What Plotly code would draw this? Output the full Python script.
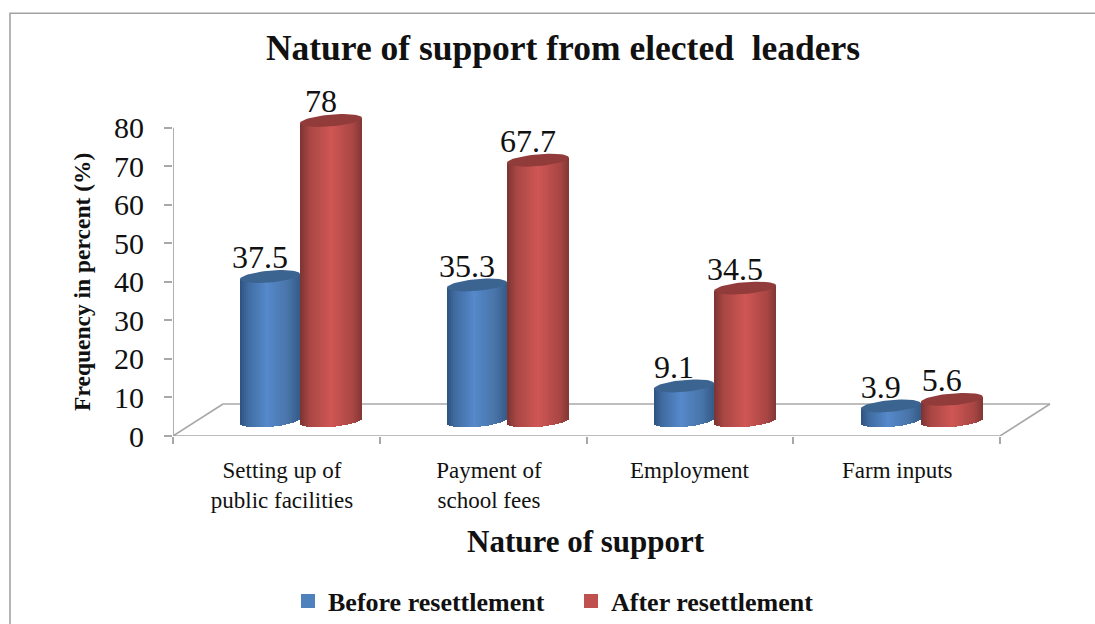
import math
import plotly.graph_objects as go

# ---- chart data ----
categories = ["Setting up of<br>public facilities", "Payment of<br>school fees", "Employment", "Farm inputs"]
before_values = [37.5, 35.3, 9.1, 3.9]
after_values = [78, 67.7, 34.5, 5.6]
value_labels_before = ["37.5", "35.3", "9.1", "3.9"]
value_labels_after = ["78", "67.7", "34.5", "5.6"]
y_ticks = [0, 10, 20, 30, 40, 50, 60, 70, 80]

# ---- canvas and plot geometry (pixels) ----
WIDTH, HEIGHT = 1095, 624
PX_PER_X = 206.75
PX_PER_Y = 3.85
Y_AXIS_MAX = 80   # the axis line and ticks stop here
Y_RANGE_MAX = 88  # headroom so the tallest cylinder and its label stay drawn
LEFT, RIGHT_EDGE, BOTTOM = 173, 1056, 436
TOP = BOTTOM - Y_RANGE_MAX * PX_PER_Y
x_max = (RIGHT_EDGE - LEFT) / PX_PER_X

# ---- 3D floor and cylinder geometry ----
DEPTH_X = 50 / PX_PER_X
DEPTH_Y = 32 / PX_PER_Y
BASE_LEVEL = 15 / PX_PER_Y
RY = 5.9          # ellipse half height, px
TILT = 2.6        # ellipse lean, px at the rim
STRIP_PX = 2
GROUP_X = [0.619, 1.62, 2.622, 3.622]
LABEL_X = [0.527, 1.528, 2.498, 3.503]

GRAY = "#a8a8a8"
SERIF = "Liberation Serif"
INK = "#111111"

BLUE_STOPS = [(0, "#2e527f"), (0.12, "#3f6a9e"), (0.45, "#5589cb"), (0.8, "#4874a8"), (1, "#345a87")]
RED_STOPS = [(0, "#7a3332"), (0.15, "#a84644"), (0.5, "#cf5654"), (0.85, "#a94644"), (1, "#7f3735")]


def shade(stops, t):
    """Colour across a cylinder's width, t running from 0 to 1."""
    for (t0, c0), (t1, c1) in zip(stops, stops[1:]):
        if t <= t1:
            f = (t - t0) / (t1 - t0)
            a = [int(c0[i:i + 2], 16) for i in (1, 3, 5)]
            b = [int(c1[i:i + 2], 16) for i in (1, 3, 5)]
            return "rgb(%d,%d,%d)" % tuple(round(p + (q - p) * f) for p, q in zip(a, b))
    return stops[-1][1]


def add_cylinders(fig, values, labels, stops, top_color, offset_px, rx_px, name):
    """One series: a body built from shaded strips, a lid ellipse and a value label."""
    xs, bases, heights, colors = [], [], [], []
    lid_x, lid_y = [], []
    n = int(2 * rx_px / STRIP_PX)
    for gx, v in zip(GROUP_X, values):
        cx = gx + offset_px / PX_PER_X
        for k in range(n):
            u = (k + 0.5) / n * 2 - 1
            lean = TILT * u / PX_PER_Y
            drop = RY * math.sqrt(1 - u * u) / PX_PER_Y
            bottom = BASE_LEVEL + lean - drop
            top = BASE_LEVEL + v + lean
            xs.append(cx + u * rx_px / PX_PER_X)
            bases.append(bottom)
            heights.append(top - bottom)
            colors.append(shade(stops, (u + 1) / 2))
        for a in range(0, 361, 6):
            c, s = math.cos(math.radians(a)), math.sin(math.radians(a))
            lid_x.append(cx + rx_px * c / PX_PER_X)
            lid_y.append(BASE_LEVEL + v + (TILT * c + RY * s) / PX_PER_Y)
        lid_x.append(None)
        lid_y.append(None)
    fig.add_trace(go.Bar(x=xs, y=heights, base=bases, width=(STRIP_PX + 0.6) / PX_PER_X,
                         marker=dict(color=colors, line=dict(width=0)),
                         cliponaxis=False, showlegend=False, hoverinfo="skip", name=name))
    fig.add_trace(go.Scatter(x=lid_x, y=lid_y, mode="lines", fill="toself", fillcolor=top_color,
                             line=dict(width=0, color=top_color), cliponaxis=False,
                             showlegend=False, hoverinfo="skip"))
    fig.add_trace(go.Scatter(x=[g + (offset_px - 10) / PX_PER_X for g in GROUP_X],
                             y=[BASE_LEVEL + v + 0.1 for v in values],
                             mode="text", text=labels, textposition="top center",
                             textfont=dict(family=SERIF, size=32, color=INK),
                             cliponaxis=False, showlegend=False, hoverinfo="skip"))


fig = go.Figure()
add_cylinders(fig, before_values, value_labels_before, BLUE_STOPS, "#3c6491", -31, 30, "Before resettlement")
add_cylinders(fig, after_values, value_labels_after, RED_STOPS, "#913c3a", 30, 31, "After resettlement")

# Front edge and side edges of the chart floor
fig.add_trace(go.Scatter(x=[DEPTH_X, 0, 4, 4 + DEPTH_X], y=[DEPTH_Y, 0, 0, DEPTH_Y], mode="lines",
                         line=dict(color=GRAY, width=1.6), cliponaxis=False,
                         showlegend=False, hoverinfo="skip"))
# Value axis line, stopping at the top tick
fig.add_trace(go.Scatter(x=[0, 0], y=[0, Y_AXIS_MAX], mode="lines",
                         line=dict(color=GRAY, width=1.8), cliponaxis=False,
                         showlegend=False, hoverinfo="skip"))

# Legend entries
for label, color in (("<b>Before resettlement</b>", "#4f81bd"), ("<b>After resettlement</b>", "#c0504d")):
    fig.add_trace(go.Scatter(x=[None], y=[None], mode="markers", name=label,
                             marker=dict(symbol="square", size=14, color=color)))


def px_x(p):
    return (p - LEFT) / (RIGHT_EDGE - LEFT)


def px_y(p):
    return (BOTTOM - p) / (BOTTOM - TOP)


fig.update_layout(
    width=WIDTH, height=HEIGHT, autosize=False,
    margin=dict(l=LEFT, r=WIDTH - RIGHT_EDGE, t=TOP, b=HEIGHT - BOTTOM, pad=0, autoexpand=False),
    paper_bgcolor="white", plot_bgcolor="white",
    barmode="overlay", bargap=0,
    font=dict(family=SERIF, color=INK),
    title=dict(text="<b>Nature of support from elected\u00a0 leaders</b>",
               font=dict(family=SERIF, size=35.5, color=INK),
               x=563 / WIDTH, xanchor="center", y=1 - 48 / HEIGHT, yanchor="middle"),
    xaxis=dict(range=[0, x_max], automargin=False, showgrid=False, zeroline=False, showline=False,
               tickmode="array", tickvals=LABEL_X, ticktext=categories, ticks="",
               tickfont=dict(family=SERIF, size=23, color=INK), ticklabelstandoff=18,
               minor=dict(tickmode="array", tickvals=[0, 1, 2, 3, 4], ticks="outside",
                          ticklen=7, tickwidth=1.6, tickcolor=GRAY)),
    yaxis=dict(range=[0, Y_RANGE_MAX], automargin=False, showgrid=False, zeroline=False, showline=False,
               tickmode="array", tickvals=y_ticks, ticks="outside", ticklen=8, tickwidth=1.6, tickcolor=GRAY,
               tickfont=dict(family=SERIF, size=30, color=INK), ticklabelstandoff=14),
    annotations=[
        dict(text="<b>Nature of support</b>", xref="paper", yref="paper", x=px_x(586), y=px_y(541),
             xanchor="center", yanchor="middle", showarrow=False,
             font=dict(family=SERIF, size=31, color=INK)),
        dict(text="<b>Frequency in percent (%)</b>", xref="paper", yref="paper", x=px_x(82), y=px_y(282),
             xanchor="center", yanchor="middle", textangle=-90, showarrow=False,
             font=dict(family=SERIF, size=23.5, color=INK)),
    ],
    legend=dict(orientation="h", x=px_x(288), xanchor="left", y=px_y(601), yanchor="middle",
                font=dict(family=SERIF, size=26, color=INK), entrywidth=238,
                entrywidthmode="pixels", bgcolor="rgba(0,0,0,0)", itemclick=False),
    shapes=[
        # Back edge of the floor, behind the cylinders
        dict(type="line", layer="below", xref="x", yref="y", x0=DEPTH_X, x1=4 + DEPTH_X,
             y0=DEPTH_Y, y1=DEPTH_Y, line=dict(color=GRAY, width=1.6)),
        # Outer frame of the chart area
        dict(type="path", xref="paper", yref="paper", layer="below",
             path="M %f %f L %f %f L %f %f" % (px_x(10), px_y(HEIGHT + 2), px_x(10), px_y(13.5),
                                               px_x(WIDTH + 2), px_y(13.5)),
             line=dict(color="#a3a3a3", width=1.6)),
    ],
)

fig.write_html("out.html")
